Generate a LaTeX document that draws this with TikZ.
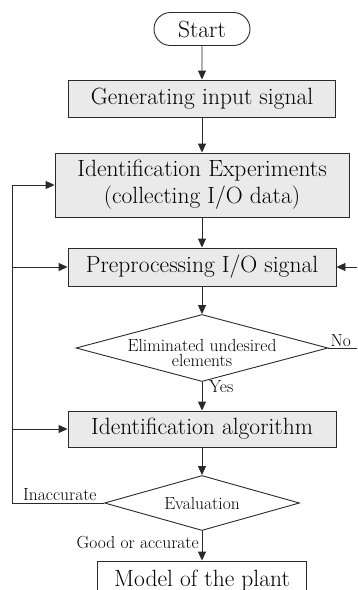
\documentclass[tikz,border=0pt]{standalone}
\usetikzlibrary{shapes.geometric,shapes.misc,arrows.meta}
\definecolor{boxfill}{HTML}{EAEAEA}
\definecolor{linec}{HTML}{2A2A2A}
\tikzset{
  big/.style={font=\fontsize{23.5}{27}\selectfont},
  small/.style={font=\fontsize{17.5}{15}\selectfont},
  procbox/.style={draw=linec, line width=0.9pt, fill=boxfill, rectangle, inner sep=0pt, big, align=center},
  plainbox/.style={draw=linec, line width=0.9pt, fill=white, rectangle, inner sep=0pt, big, align=center},
  decision/.style={draw=linec, line width=0.9pt, diamond, inner sep=0pt, small, align=center},
  termbox/.style={draw=linec, line width=0.9pt, rounded rectangle, inner sep=0pt, big},
  conn/.style={draw=linec, line width=0.9pt, -{Triangle[length=9pt,width=8pt]}},
  plainconn/.style={draw=linec, line width=0.9pt},
  lbl/.style={small, inner sep=1pt}
}
\begin{document}
\begin{tikzpicture}[x=1pt,y=-1pt]
\useasboundingbox (0,0) rectangle (357,590);
\clip (0,0) rectangle (357,590);
\fill[white] (0,0) rectangle (357,590);

\node[termbox, minimum width=96pt, minimum height=33pt] (start) at (202,29) {Start};
\node[procbox, minimum width=267pt, minimum height=37pt] (gen) at (202,98.5) {Generating input signal};
\node[procbox, minimum width=294pt, minimum height=64pt] (idexp) at (202,185) {Identification Experiments\\(collecting I/O data)};
\node[procbox, minimum width=268pt, minimum height=38pt] (prep) at (202,267) {Preprocessing I/O signal};
\node[decision, aspect=3.76, minimum width=252pt, minimum height=67pt] (elim) at (202,348) {};
\node[lbl, align=center] (elimtxt) at ([yshift=-5pt]elim.center) {Eliminated undesired\\elements};
\node[procbox, minimum width=268pt, minimum height=36pt] (idalg) at (202,429) {Identification algorithm};
\node[decision, aspect=3.55, minimum width=195pt, minimum height=55pt] (eval) at (202,503) {Evaluation};
\node[plainbox, minimum width=209pt, minimum height=40pt] (model) at (202,581) {Model of the plant};

\coordinate (lx) at (12,0);
\coordinate (rx) at (372,0);

\path[conn] (start) -- (gen);
\path[conn] (gen) -- (idexp);
\path[conn] (idexp) -- (prep);
\path[conn] (prep) -- (elim);
\path[conn] (elim) -- (idalg);
\path[conn] (idalg) -- (eval);
\path[conn] (eval) -- (model);

% No loop on the right
\path[conn] (elim.east) -| (rx |- prep.east) -- (prep.east);
% Inaccurate loop on the left
\path[plainconn] (eval.west) -| (lx |- idexp.west);
\path[conn] (lx |- idexp.west) -- (idexp.west);
\path[conn] (lx |- prep.west) -- (prep.west);
\path[conn] (lx |- idalg.west) -- (idalg.west);

\node[lbl, anchor=south west] (no) at ([xshift=1pt]elim.east) {No};
\node[lbl, anchor=north west] (yes) at ([xshift=6pt,yshift=3pt]elim.south) {Yes};
\node[lbl, anchor=south west] (inacc) at (22,502) {Inaccurate};
\node[lbl, anchor=east] (good) at (200,543) {Good or accurate};
\end{tikzpicture}
\end{document}
